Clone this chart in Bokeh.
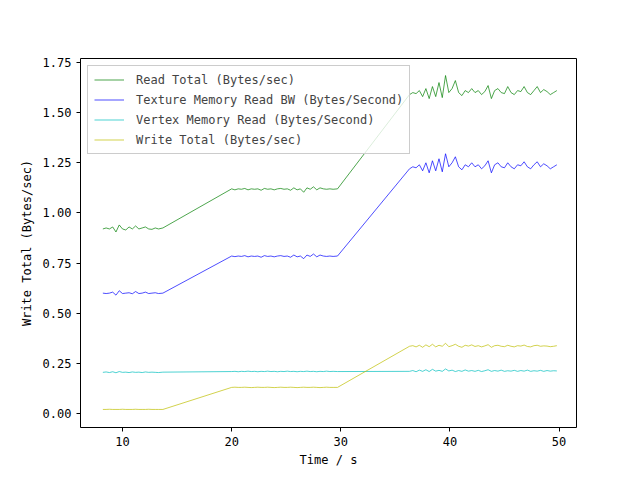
from bokeh.embed import file_html
from bokeh.resources import INLINE
from bokeh.plotting import figure
from bokeh.models import Range1d, FixedTicker, Label, Legend, LegendItem, CustomJSTickFormatter

# data (values in 1e9 bytes/sec)
time_a = [8.2, 8.5, 8.8, 9.1, 9.4, 9.7, 10.0, 10.3, 10.6, 10.9, 11.2, 11.5, 11.8, 12.1, 12.4, 12.7, 13.0, 13.3, 13.7]
time_b = [20.0, 20.3, 20.6, 20.9, 21.2, 21.5, 21.8, 22.1, 22.4, 22.7, 23.0, 23.3, 23.6, 23.9, 24.2, 24.5,
          24.8, 25.1, 25.4, 25.7, 26.0, 26.3, 26.6, 26.9, 27.2, 27.5, 27.8, 28.1, 28.4, 28.7, 29.0, 29.3, 29.7]
time_c = [36.3, 36.6, 36.9, 37.2, 37.5, 37.8, 38.1, 38.4, 38.7, 39.0, 39.3, 39.6, 39.9, 40.2, 40.5, 40.8,
          41.1, 41.4, 41.7, 42.0, 42.3, 42.6, 42.9, 43.2, 43.5, 43.8, 44.1, 44.4, 44.7, 45.0, 45.3, 45.6,
          45.9, 46.2, 46.5, 46.8, 47.1, 47.4, 47.7, 48.0, 48.3, 48.6, 48.9, 49.2, 49.5, 49.8]

read_a = [0.92, 0.925, 0.92, 0.93, 0.905, 0.94, 0.92, 0.915, 0.93, 0.92, 0.935, 0.92, 0.925, 0.93, 0.92, 0.918, 0.925, 0.92, 0.925]
read_b = [1.12, 1.115, 1.12, 1.118, 1.122, 1.115, 1.12, 1.118, 1.12, 1.113, 1.122, 1.118, 1.12, 1.115, 1.12, 1.122, 1.118,
          1.12, 1.113, 1.125, 1.115, 1.12, 1.103, 1.125, 1.118, 1.13, 1.115, 1.125, 1.12, 1.118, 1.12, 1.118, 1.12]
read_c = [1.59, 1.60, 1.595, 1.61, 1.58, 1.62, 1.57, 1.63, 1.58, 1.65, 1.575, 1.685, 1.6, 1.62, 1.66, 1.6, 1.585, 1.61,
          1.6, 1.62, 1.6, 1.61, 1.59, 1.605, 1.635, 1.57, 1.61, 1.62, 1.6, 1.595, 1.63, 1.6, 1.59, 1.61, 1.605, 1.63,
          1.6, 1.59, 1.61, 1.63, 1.6, 1.615, 1.605, 1.59, 1.6, 1.61]

tex_a = [0.60, 0.598, 0.60, 0.605, 0.59, 0.612, 0.598, 0.60, 0.602, 0.597, 0.608, 0.598, 0.60, 0.605, 0.598, 0.60, 0.602, 0.598, 0.60]
tex_b = [0.785, 0.782, 0.785, 0.783, 0.787, 0.781, 0.785, 0.783, 0.785, 0.779, 0.787, 0.783, 0.785, 0.781, 0.785, 0.787, 0.783,
         0.785, 0.779, 0.79, 0.781, 0.785, 0.772, 0.79, 0.783, 0.795, 0.781, 0.79, 0.785, 0.783, 0.785, 0.783, 0.785]
tex_c = [1.22, 1.23, 1.225, 1.24, 1.21, 1.25, 1.20, 1.26, 1.21, 1.27, 1.205, 1.295, 1.23, 1.25, 1.28, 1.23, 1.215, 1.24,
         1.23, 1.25, 1.23, 1.24, 1.22, 1.235, 1.26, 1.20, 1.24, 1.25, 1.23, 1.225, 1.25, 1.23, 1.22, 1.24, 1.235, 1.255,
         1.23, 1.22, 1.24, 1.255, 1.23, 1.245, 1.235, 1.22, 1.23, 1.24]

vert_a = [0.205, 0.207, 0.204, 0.208, 0.203, 0.209, 0.205, 0.206, 0.204, 0.207, 0.205, 0.206, 0.204, 0.207, 0.205, 0.206, 0.205, 0.204, 0.206]
vert_b = [0.209, 0.21, 0.208, 0.21, 0.209, 0.211, 0.209, 0.21, 0.208, 0.21, 0.209, 0.211, 0.209, 0.21, 0.208, 0.21, 0.209,
          0.211, 0.209, 0.21, 0.208, 0.21, 0.209, 0.211, 0.209, 0.21, 0.208, 0.21, 0.209, 0.211, 0.209, 0.21, 0.209]
vert_c = [0.21, 0.214, 0.208, 0.216, 0.21, 0.218, 0.209, 0.22, 0.211, 0.215, 0.21, 0.222, 0.212, 0.216, 0.209, 0.214, 0.21,
          0.217, 0.211, 0.214, 0.21, 0.215, 0.209, 0.213, 0.218, 0.21, 0.214, 0.211, 0.216, 0.21, 0.213, 0.211, 0.215,
          0.21, 0.214, 0.211, 0.216, 0.21, 0.213, 0.211, 0.215, 0.21, 0.214, 0.211, 0.213, 0.212]

write_a = [0.02, 0.02, 0.021, 0.02, 0.02, 0.02, 0.021, 0.02, 0.02, 0.02, 0.021, 0.02, 0.02, 0.02, 0.021, 0.02, 0.02, 0.02, 0.02]
write_b = [0.13, 0.131, 0.13, 0.13, 0.131, 0.13, 0.129, 0.13, 0.131, 0.13, 0.13, 0.131, 0.13, 0.129, 0.13, 0.131, 0.13,
           0.13, 0.131, 0.13, 0.129, 0.13, 0.131, 0.13, 0.13, 0.131, 0.13, 0.129, 0.13, 0.131, 0.13, 0.13, 0.13]
write_c = [0.335, 0.338, 0.332, 0.34, 0.33, 0.342, 0.333, 0.345, 0.332, 0.34, 0.335, 0.35, 0.333, 0.338, 0.345, 0.335,
           0.33, 0.34, 0.336, 0.342, 0.334, 0.338, 0.332, 0.337, 0.343, 0.33, 0.338, 0.34, 0.335, 0.333, 0.34, 0.335,
           0.332, 0.338, 0.336, 0.341, 0.334, 0.332, 0.338, 0.34, 0.335, 0.337, 0.336, 0.333, 0.335, 0.338]

times = time_a + time_b + time_c
series = [
    ("Read Total (Bytes/sec)", read_a + read_b + read_c, "#008000"),
    ("Texture Memory Read BW (Bytes/Second)", tex_a + tex_b + tex_c, "#0000ff"),
    ("Vertex Memory Read (Bytes/Second)", vert_a + vert_b + vert_c, "#00bfbf"),
    ("Write Total (Bytes/sec)", write_a + write_b + write_c, "#bfbf00"),
]

FONT = "DejaVu Sans Mono"
FS = "12px"

p = figure(width=640, height=480, output_backend="svg", toolbar_location=None,
           x_range=Range1d(6.15, 51.6), y_range=Range1d(-0.07, 1.77),
           min_border_left=80, min_border_right=64, min_border_top=58, min_border_bottom=53)
p.grid.grid_line_color = None
p.outline_line_color = "black"
p.outline_line_width = 1

items = []
for name, ys, color in series:
    r = p.line(times, ys, line_color=color, line_width=0.7)
    items.append(LegendItem(label=name, renderers=[r]))

legend = Legend(items=items, location="top_left", label_text_font=FONT, label_text_font_size=FS,
                glyph_width=30, glyph_height=15, spacing=5, padding=6, margin=7,
                border_line_color="#cccccc", border_line_alpha=1.0, background_fill_alpha=0.8,
                label_standoff=12)
p.add_layout(legend)

p.xaxis.ticker = FixedTicker(ticks=[10, 20, 30, 40, 50])
p.yaxis.ticker = FixedTicker(ticks=[0, 0.25, 0.5, 0.75, 1.0, 1.25, 1.5, 1.75])
p.yaxis.formatter = CustomJSTickFormatter(code="return tick.toFixed(2);")
p.xaxis.axis_label = "Time / s"
p.yaxis.axis_label = "Write Total (Bytes/sec)"
for ax in (p.xaxis[0], p.yaxis[0]):
    ax.axis_label_text_font = FONT
    ax.axis_label_text_font_style = "normal"
    ax.axis_label_text_font_size = FS
    ax.axis_label_text_color = "black"
    ax.major_label_text_font = FONT
    ax.major_label_text_font_size = FS
    ax.major_label_text_color = "black"
    ax.minor_tick_line_color = None
    ax.major_tick_line_color = "black"
    ax.major_tick_in = 0
    ax.major_tick_out = 4
    ax.axis_line_color = None
p.xaxis[0].axis_label_standoff = 4
p.yaxis[0].axis_label_standoff = 6

p.add_layout(Label(x=0, y=372, x_units="screen", y_units="screen", text="1e9",
                   text_font=FONT, text_font_size=FS, text_color="black"))

open("out.html", "w").write(file_html(p, INLINE))
